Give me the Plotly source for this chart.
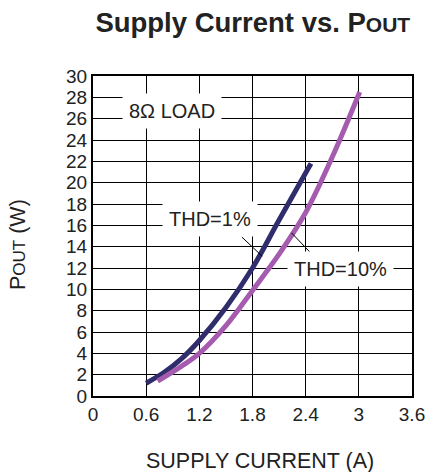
import plotly.graph_objects as go

# THD = 1% curve
thd1_current = [0.60, 0.80, 1.00, 1.20, 1.50, 1.80, 2.10, 2.46]
thd1_pout = [1.2, 2.2, 3.5, 5.2, 8.3, 12.0, 16.5, 21.8]

# THD = 10% curve
thd10_current = [0.73, 1.00, 1.20, 1.50, 1.80, 2.10, 2.40, 2.70, 3.01]
thd10_pout = [1.4, 2.8, 4.0, 6.6, 9.9, 13.3, 17.2, 22.4, 28.5]

x_ticks = [0, 0.6, 1.2, 1.8, 2.4, 3.0, 3.6]
x_tick_labels = ["0", "0.6", "1.2", "1.8", "2.4", "3", "3.6"]
y_ticks = list(range(0, 31, 2))

# leader lines (from label towards curve)
leader1 = [(1.68, 14.9), (1.91, 13.1)]
leader10 = [(2.24, 15.3), (2.47, 13.3)]

BLUE = "#2F2D6B"
MAGENTA = "#A55CAF"
FONT = "Arial, Liberation Sans, sans-serif"
TXT = "#222222"

fig = go.Figure()
fig.add_trace(go.Scatter(x=thd1_current, y=thd1_pout, mode="lines",
                         line=dict(color=BLUE, width=5, shape="spline"),
                         showlegend=False, hoverinfo="skip"))
fig.add_trace(go.Scatter(x=thd10_current, y=thd10_pout, mode="lines",
                         line=dict(color=MAGENTA, width=5, shape="spline"),
                         showlegend=False, hoverinfo="skip"))

for (p0, p1) in [leader1, leader10]:
    fig.add_shape(type="line", x0=p0[0], y0=p0[1], x1=p1[0], y1=p1[1],
                  line=dict(color="black", width=1), layer="above")

fig.add_annotation(x=0.89, y=26.7, text="8Ω LOAD", showarrow=False,
                   font=dict(family=FONT, size=20, color=TXT),
                   bgcolor="white", borderpad=6)
fig.add_annotation(x=1.32, y=16.6, text="THD=1%", showarrow=False,
                   font=dict(family=FONT, size=20, color=TXT),
                   bgcolor="white", borderpad=6)
fig.add_annotation(x=2.79, y=11.9, text="THD=10%", showarrow=False,
                   font=dict(family=FONT, size=20, color=TXT),
                   bgcolor="white", borderpad=6)

# axis titles
fig.add_annotation(xref="paper", yref="paper", x=0.524, y=-0.203,
                   text="SUPPLY CURRENT (A)", showarrow=False,
                   xanchor="center", yanchor="middle",
                   font=dict(family=FONT, size=21.5, color=TXT))
fig.add_annotation(xref="paper", yref="paper", x=-0.235, y=0.472,
                   text="P<span style='font-size:17px'>OUT</span> (W)", showarrow=False,
                   textangle=-90, xanchor="center", yanchor="middle",
                   font=dict(family=FONT, size=21.5, color=TXT))

fig.update_layout(
    width=427, height=472,
    margin=dict(l=93, r=15, t=76, b=76, autoexpand=False),
    paper_bgcolor="white", plot_bgcolor="white",
    title=dict(text="<b>Supply Current vs. P<span style='font-size:21px'>OUT</span></b>",
               x=0.592, xanchor="center", y=0.953, yanchor="middle",
               font=dict(family=FONT, size=27.5, color=TXT)),
    font=dict(family=FONT, size=19, color=TXT),
)
fig.update_xaxes(range=[0, 3.6], tickvals=x_ticks, ticktext=x_tick_labels,
                 showgrid=True, gridcolor="black", gridwidth=1,
                 showline=True, linecolor="black", linewidth=2, mirror=True,
                 ticks="", zeroline=False, tickfont=dict(size=19), automargin=False)
fig.update_yaxes(range=[0, 30], tickvals=y_ticks,
                 showgrid=True, gridcolor="black", gridwidth=1,
                 showline=True, linecolor="black", linewidth=2, mirror=True,
                 ticks="", zeroline=False, tickfont=dict(size=19), automargin=False)

fig.write_html("out.html", config={"displayModeBar": False},
               post_script="document.body.style.margin='0';document.body.style.padding='0';")
